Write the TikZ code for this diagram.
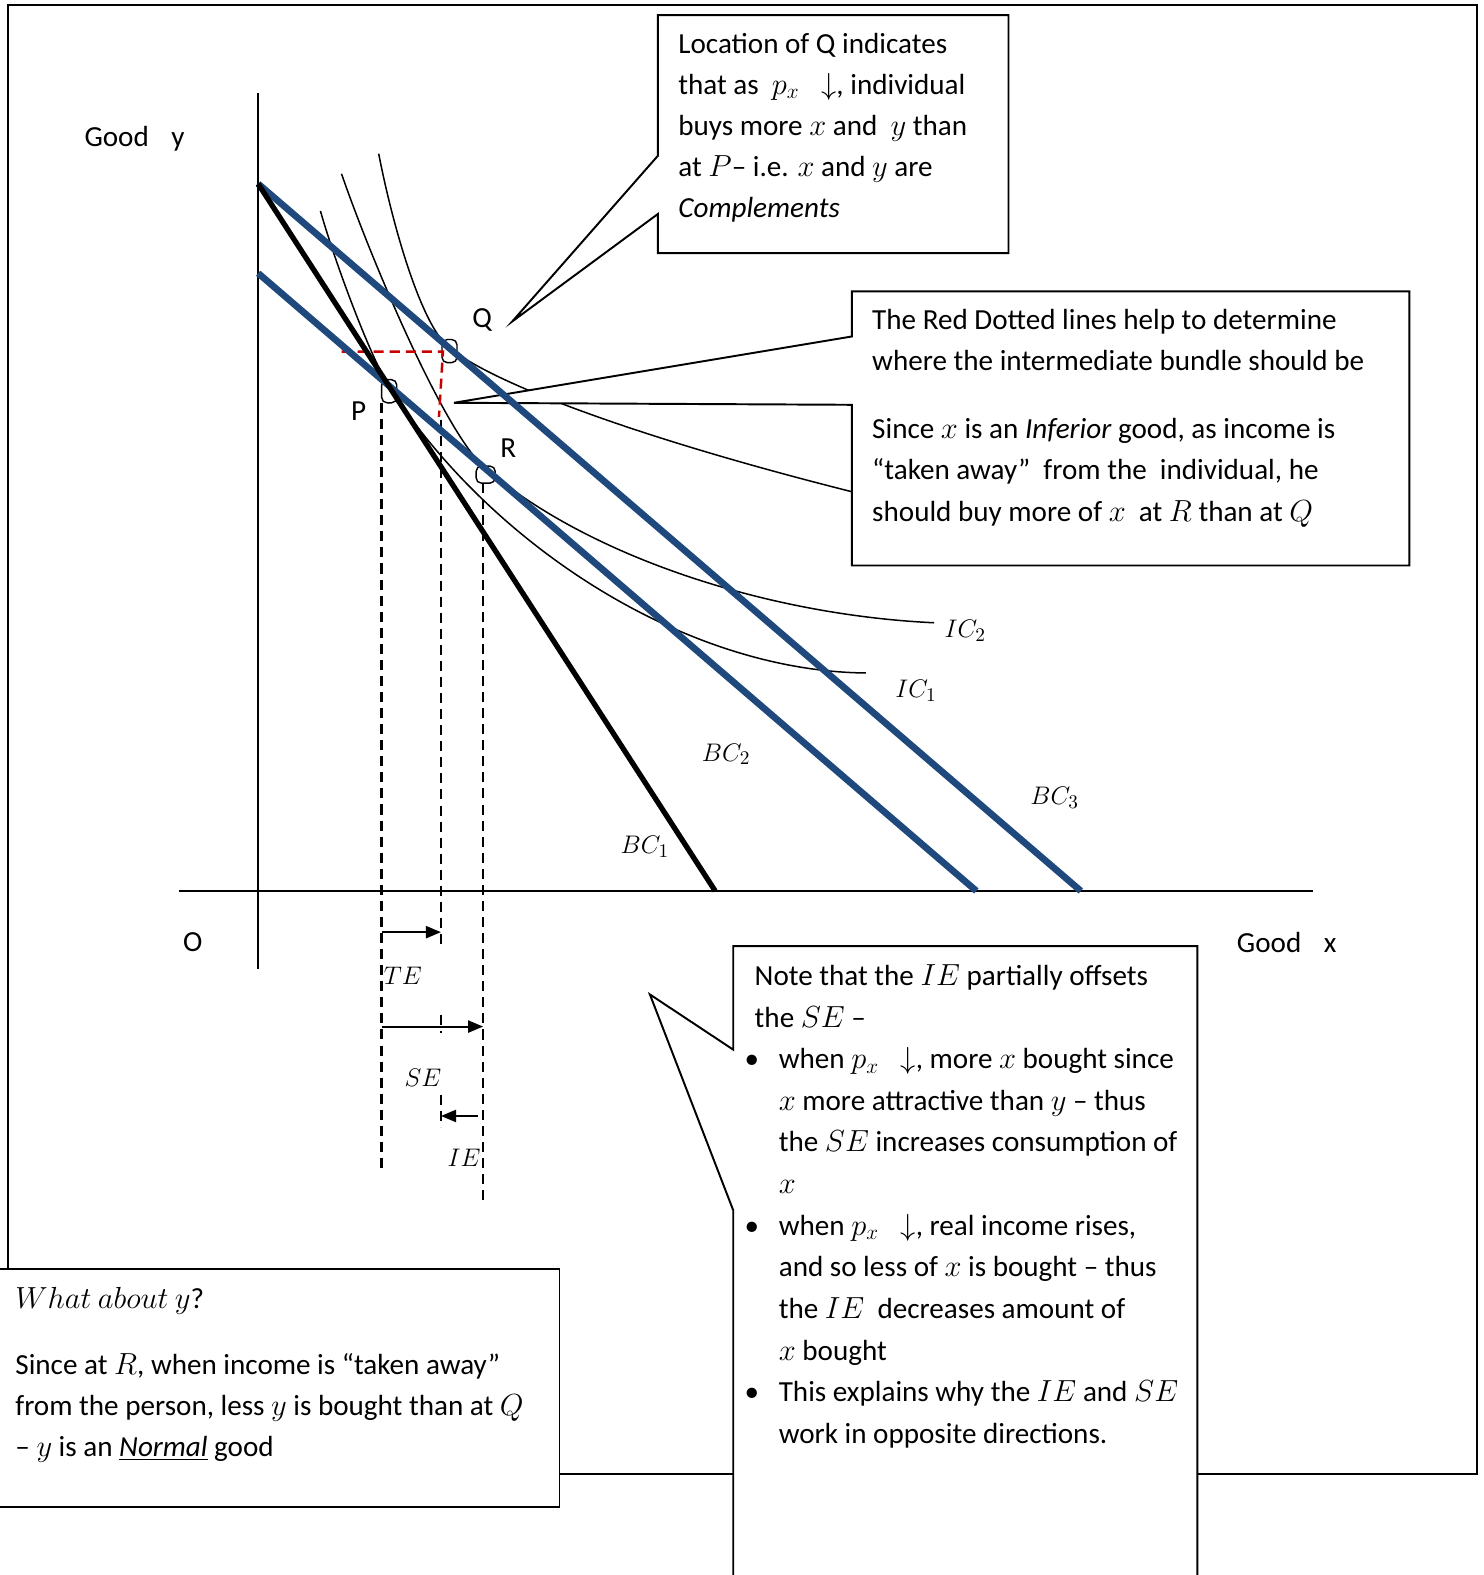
\documentclass[tikz,border=0pt]{standalone}
\usepackage{fontspec}
\setmainfont{Carlito}
\usetikzlibrary{arrows.meta}
\definecolor{bcblue}{RGB}{31,73,125}
\definecolor{dotred}{RGB}{200,0,0}
\tikzset{
  budget/.style={line width=3.8pt,bcblue},
  icurve/.style={line width=0.85pt},
  guide/.style={line width=1.4pt,dash pattern=on 0.2cm off 0.12cm},
  callout/.style={draw,line width=1.1pt,fill=white},
  marker/.style={line width=0.8pt,rounded corners=3pt},
  lbl/.style={inner sep=0pt,font=\fontsize{16.5}{20}\selectfont},
  mlbl/.style={inner sep=0pt,font=\fontsize{15.5}{19}\selectfont},
  boxtext/.style={anchor=base west,inner sep=0pt,font=\fontsize{16.5}{23.3}\selectfont}
}
\newcommand{\bul}{\hspace*{-0.2cm}\makebox[0.68cm][l]{\textbullet}}
\newcommand{\ind}{\hspace*{0.48cm}}
\begin{document}
\begin{tikzpicture}[x=0.02cm,y=-0.02cm,>={Triangle[length=0.3cm,width=0.24cm]}]
\useasboundingbox (0,0) rectangle (1477,1568);
\draw[line width=1.2pt] (8,5) rectangle (1470,1467);
% axes and points
\coordinate (O) at (257,887);
\coordinate (A3) at (257,183);
\coordinate (A2) at (257,272);
\coordinate (B1) at (712,887);
\coordinate (B2) at (972,887);
\coordinate (B3) at (1076,887);
\coordinate (P) at (388,386);
\coordinate (Q) at (446,345);
\coordinate (R) at (483,466);
\draw[line width=1pt] (257,93) -- (257,965);
\draw[line width=1pt] (178,887) -- (1307,887);
% indifference curves
\draw[icurve] (319,210) .. controls (335,266) and (370,358) .. (P) .. controls (488,541) and (680,668) .. (862,670);
\draw[icurve] (340,173) .. controls (370,260) and (443,432) .. (R) .. controls (583,552) and (760,612) .. (930,620);
\draw[icurve] (377,153) .. controls (392,230) and (420,323) .. (Q) .. controls (496,388) and (700,460) .. (1000,525);
\draw[marker] (380,378) rectangle (395,401);
\draw[marker] (440,338) rectangle (455,361);
\draw[marker] (474,464) rectangle (493,481);
% guide lines
\draw[guide] (380,401) -- (380,1165);
\draw[guide] (439,418) -- (439,941);
\draw[guide] (439,1010) -- (439,1028);
\draw[guide] (439,1090) -- (439,1122);
\draw[guide] (481,481) -- (481,1197);
\draw[guide,dotred] (340,350) -- (441,350) -- (437,415);
\coordinate (teL) at (380,928); \coordinate (teR) at (439,928);
\coordinate (seL) at (380,1022); \coordinate (seR) at (481,1022);
\coordinate (ieR) at (476,1111); \coordinate (ieL) at (439,1111);
\draw[->,line width=1.2pt] (teL) -- (teR);
\draw[->,line width=1.2pt] (seL) -- (seR);
\draw[->,line width=1.2pt] (ieR) -- (ieL);
% callouts
\draw[callout] (655,15) -- (1004,15) -- (1004,252) -- (655,252) -- (655,213) -- (510,320) -- (655,155) -- cycle;
\draw[callout] (848,290) -- (1403,290) -- (1403,563) -- (848,563) -- (848,403) -- (452,401) -- (848,335) -- cycle;
\draw[callout] (730,942) -- (1192,942) -- (1192,1590) -- (730,1590) -- (730,1205) -- (647,990) -- (730,1045) -- cycle;
\draw[callout] (-20,1263) rectangle (557,1500);
% budget lines
\draw[budget] (A3) -- (B3);
\draw[budget] (A2) -- (B2);
\draw[line width=3pt] (A3) -- (B1);
% labels
\node[lbl] (labQ) at (480,319) {Q};
\node[lbl] (labP) at (357,409) {P};
\node[lbl] (labR) at (506,446) {R};
\node[lbl] (labO) at (192,938) {O};
\node[lbl] (goody) at (134,138) {Good\hspace{0.45cm}y};
\node[lbl] (goodx) at (1281,938) {Good\hspace{0.45cm}x};
\node[mlbl] (ic2) at (961,628) {$IC_2$};
\node[mlbl] (ic1) at (912,688) {$IC_1$};
\node[mlbl] (bc2) at (723,751) {$BC_2$};
\node[mlbl] (bc3) at (1050,794) {$BC_3$};
\node[mlbl] (bc1) at (642,843) {$BC_1$};
\node[mlbl] (te) at (401,971) {$TE$};
\node[mlbl] (se) at (421,1073) {$SE$};
\node[mlbl] (ie) at (462,1153) {$IE$};
% callout texts
\node[boxtext] (txtQ) at (675,53) {\parbox[t]{12cm}{Location of Q indicates\\
that as\ \ $p_x\ \ \downarrow$, individual\\
buys more $x$ and\ \ $y$ than\\
at $P$-- i.e. $x$ and $y$ are\\
\textit{Complements}}};
\node[boxtext] (txtRed) at (868,328) {\parbox[t]{12cm}{The Red Dotted lines help to determine\\
where the intermediate bundle should be\\[0.54cm]
Since $x$ is an \textit{Inferior} good, as income is\\
“taken away”\ \ from the\ \ individual, he\\
should buy more of $x$\ \ at $R$ than at $Q$}};
\node[boxtext,font=\fontsize{16.5}{23.6}\selectfont] (txtNote) at (751,981) {\parbox[t]{12cm}{Note that the $IE$ partially offsets\\
the $SE$ --\\
\bul when $p_x\ \ \downarrow$, more $x$ bought since\\
\ind $x$ more attractive than $y$ -- thus\\
\ind the $SE$ increases consumption of\\
\ind $x$\\
\bul when $p_x\ \ \downarrow$, real income rises,\\
\ind and so less of $x$ is bought -- thus\\
\ind the $IE$\ \ decreases amount of\\
\ind $x$ bought\\
\bul This explains why the $IE$ and $SE$\\
\ind work in opposite directions.}};
\node[boxtext] (txtY) at (15,1303) {\parbox[t]{12cm}{$What\ about\ y$?\\[0.48cm]
Since at $R$, when income is “taken away”\\
from the person, less $y$ is bought than at $Q$\\
-- $y$ is an \underline{\textit{Normal}} good}};
\end{tikzpicture}
\end{document}
